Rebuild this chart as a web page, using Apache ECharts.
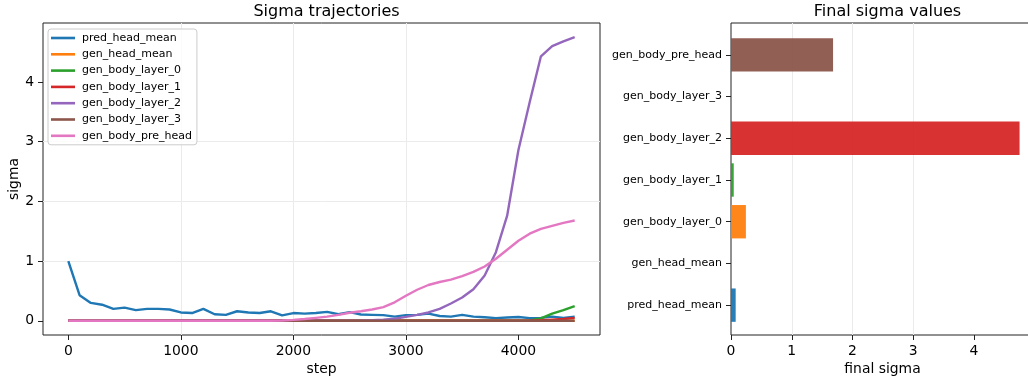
<!DOCTYPE html>
<html>
<head>
<meta charset="utf-8">
<script src="https://cdn.jsdelivr.net/npm/echarts@6/dist/echarts.min.js"></script>
<style>
html,body{margin:0;padding:0;background:#fff;}
#chart{width:1028px;height:379px;}
</style>
</head>
<body>
<div id="chart"></div>
<script>
// ---------------- data ----------------
const steps = [0,100,200,300,400,500,600,700,800,900,
  1000,1100,1200,1300,1400,1500,1600,1700,1800,1900,
  2000,2100,2200,2300,2400,2500,2600,2700,2800,2900,
  3000,3100,3200,3300,3400,3500,3600,3700,3800,3900,
  4000,4100,4200,4300,4400,4500];

const predHeadMean = [1.0,0.43,0.30,0.27,0.20,0.22,0.18,0.20,0.20,0.19,
  0.14,0.13,0.20,0.11,0.10,0.16,0.14,0.13,0.16,0.09,
  0.13,0.12,0.13,0.15,0.11,0.145,0.105,0.10,0.095,0.07,
  0.095,0.10,0.12,0.08,0.07,0.10,0.07,0.06,0.045,0.055,
  0.065,0.045,0.05,0.07,0.05,0.07];

const genHeadMean = [0,0,0,0,0,0,0,0,0,0,
  0,0,0,0,0,0,0,0,0,0,
  0,0,0,0,0,0,0,0,0,0,
  0,0,0,0,0,0,0,0,0,0,
  0,0,0,0,0,0];

const genBodyLayer0 = [0,0,0,0,0,0,0,0,0,0,
  0,0,0,0,0,0,0,0,0,0,
  0,0,0,0,0,0,0,0,0,0,
  0,0,0,0,0,0,0,0,0,0,
  0,0.005,0.04,0.12,0.18,0.245];

const genBodyLayer1 = [0,0,0,0,0,0,0,0,0,0,
  0,0,0,0,0,0,0,0,0,0,
  0,0,0,0,0,0,0,0,0,0,
  0,0,0,0,0,0,0,0,0,0,
  0,0,0.01,0.02,0.03,0.05];

const genBodyLayer2 = [0,0,0,0,0,0,0,0,0,0,
  0,0,0,0,0,0,0,0,0,0,
  0,0,0,0,0,0.003,0.006,0.01,0.02,0.035,
  0.065,0.10,0.14,0.20,0.29,0.39,0.53,0.76,1.15,1.76,
  2.86,3.66,4.43,4.60,4.68,4.75];

const genBodyLayer3 = [0,0,0,0,0,0,0,0,0,0,
  0,0,0,0,0,0,0,0,0,0,
  0,0,0,0,0,0,0,0,0,0,
  0,0,0,0,0,0,0,0,0,0,
  0,0,0,0,0,0];

const genBodyPreHead = [0,0,0,0,0,0,0,0,0,0,
  0,0,0,0,0,0,0,0,0,0.005,
  0.015,0.03,0.05,0.07,0.10,0.135,0.16,0.19,0.23,0.31,
  0.42,0.52,0.60,0.65,0.69,0.75,0.82,0.91,1.04,1.19,
  1.34,1.46,1.54,1.59,1.64,1.68];

const seriesNames = ['pred_head_mean','gen_head_mean','gen_body_layer_0','gen_body_layer_1','gen_body_layer_2','gen_body_layer_3','gen_body_pre_head'];
const seriesValues = [predHeadMean, genHeadMean, genBodyLayer0, genBodyLayer1, genBodyLayer2, genBodyLayer3, genBodyPreHead];

const barCategories = ['pred_head_mean','gen_head_mean','gen_body_layer_0','gen_body_layer_1','gen_body_layer_2','gen_body_layer_3','gen_body_pre_head'];
const finalSigma = [0.077, 0, 0.245, 0.045, 4.75, 0, 1.68];

const xTicks = [0,1000,2000,3000,4000];
const yTicks = [0,1,2,3,4];
const barTicks = [0,1,2,3,4];

// ---------------- styles ----------------
const lineColors = ['#1f77b4','#ff7f0e','#2ca02c','#d62728','#9467bd','#8c564b','#e377c2'];
const barColors = ['#1f77b4','#ff7f0e','#ff7f0e','#2ca02c','#d62728','#9467bd','#8c564b'];
const FONT = 'DejaVu Sans';
const gridLine = {show:true, showMinLine:false, showMaxLine:false, lineStyle:{color:'#ebebeb', width:1}};
const tick = {show:true, length:5, lineStyle:{color:'#222', width:1}};
const noLine = {show:false, onZero:false};
const plain = v => String(v);

const chart = echarts.init(document.getElementById('chart'), null, {renderer:'canvas'});

const lineSeries = seriesNames.map((n, i) => ({
  name: n,
  type: 'line',
  xAxisIndex: 0, yAxisIndex: 0,
  data: steps.map((s, k) => [s, seriesValues[i][k]]),
  showSymbol: false,
  symbol: 'none',
  lineStyle: {color: lineColors[i], width: 2.4},
  itemStyle: {color: lineColors[i]},
  animation: false
}));

const option = {
  animation: false,
  backgroundColor: '#fff',
  textStyle: {fontFamily: FONT},
  title: [
    {text:'Sigma trajectories', left:321.5, top:-1, textAlign:'center',
     textStyle:{fontFamily:FONT, fontSize:16, fontWeight:'normal', color:'#000'}},
    {text:'Final sigma values', left:882.5, top:-1, textAlign:'center',
     textStyle:{fontFamily:FONT, fontSize:16, fontWeight:'normal', color:'#000'}}
  ],
  legend: {
    data: seriesNames,
    orient: 'vertical',
    left: 48, top: 29,
    icon: 'rect',
    itemWidth: 24, itemHeight: 2.6,
    itemGap: 4.3,
    padding: [3, 5, 3, 3],
    backgroundColor: 'rgba(255,255,255,0.8)',
    borderColor: '#cccccc', borderWidth: 1, borderRadius: 3,
    textStyle: {fontFamily: FONT, fontSize: 11, lineHeight: 12, color: '#000', padding:[0,0,0,2]}
  },
  grid: [
    {left:43, top:23, width:557, height:312, show:true, borderColor:'#222', borderWidth:1, backgroundColor:'transparent', containLabel:false, outerBoundsMode:'none'},
    {left:731, top:23, width:303, height:312, show:true, borderColor:'#222', borderWidth:1, backgroundColor:'transparent', containLabel:false, outerBoundsMode:'none'},
    {left:731, top:34, width:303, height:292, containLabel:false, outerBoundsMode:'none'}
  ],
  xAxis: [
    {type:'value', gridIndex:0, min:-225, max:4725,
     axisLine:noLine, axisTick:Object.assign({customValues:xTicks}, tick),
     axisLabel:{customValues:xTicks, formatter:plain, fontFamily:FONT, fontSize:13.9, color:'#000', margin:9},
     splitLine:gridLine,
     name:'step', nameLocation:'middle', nameGap:27, nameMoveOverlap:false,
     nameTextStyle:{fontFamily:FONT, fontSize:13.9, color:'#000'}},
    {type:'value', gridIndex:1, min:0, max:4.9875,
     axisLine:noLine, axisTick:Object.assign({customValues:barTicks}, tick),
     axisLabel:{customValues:barTicks, formatter:plain, fontFamily:FONT, fontSize:13.9, color:'#000', margin:9},
     splitLine:gridLine,
     name:'final sigma', nameLocation:'middle', nameGap:27, nameMoveOverlap:false,
     nameTextStyle:{fontFamily:FONT, fontSize:13.9, color:'#000'}},
    {type:'value', gridIndex:2, min:0, max:4.9875, show:false, axisLine:noLine}
  ],
  yAxis: [
    {type:'value', gridIndex:0, min:-0.2375, max:4.9875,
     axisLine:noLine, axisTick:Object.assign({customValues:yTicks}, tick),
     axisLabel:{customValues:yTicks, formatter:plain, fontFamily:FONT, fontSize:13.9, color:'#000', margin:9},
     splitLine:gridLine,
     name:'sigma', nameLocation:'middle', nameGap:22, nameRotate:90, nameMoveOverlap:false,
     nameTextStyle:{fontFamily:FONT, fontSize:13.9, color:'#000'}},
    {type:'value', gridIndex:1, min:0, max:1, show:false, axisLine:noLine},
    {type:'category', gridIndex:2, data:barCategories,
     axisLine:noLine,
     axisTick:{show:true, alignWithLabel:true, length:5, lineStyle:{color:'#222', width:1}},
     axisLabel:{fontFamily:FONT, fontSize:11, color:'#000', margin:9},
     splitLine:{show:false}}
  ],
  series: lineSeries.concat([{
    name: 'final',
    type: 'bar',
    xAxisIndex: 2, yAxisIndex: 2,
    barWidth: '80%',
    data: finalSigma.map((v, i) => ({value: v, itemStyle: {color: barColors[i]}})),
    itemStyle: {opacity: 0.95},
    animation: false
  }])
};
chart.setOption(option);
</script>
</body>
</html>
